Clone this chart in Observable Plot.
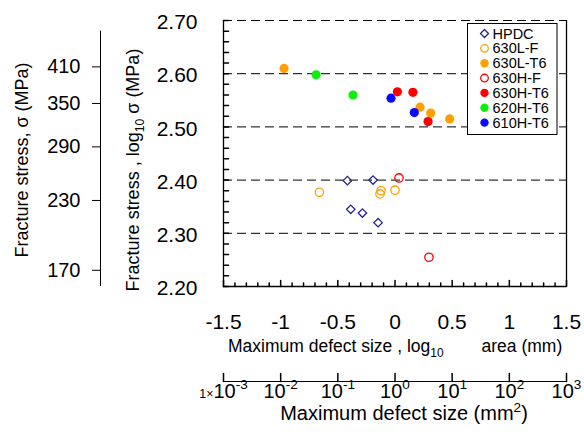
<!DOCTYPE html>
<html><head><meta charset="utf-8">
<script src="https://cdn.jsdelivr.net/npm/d3@7"></script>
<script src="https://cdn.jsdelivr.net/npm/@observablehq/plot@0.6"></script>
<style>body{margin:0;background:#fff} svg text{white-space:pre}</style>
</head><body><div id="chart"></div>
<script>
// ---- data (x: log10 sqrt(area) [mm], y: log10 fracture stress [MPa]) ----
const hpdcX = [-0.416, -0.192, -0.387, -0.285, -0.148];
const hpdcY = [2.399, 2.400, 2.345, 2.338, 2.320];
const l630FX = [-0.661, -0.122, -0.131, 0.000];
const l630FY = [2.377, 2.380, 2.374, 2.381];
const l630T6X = [-0.970, 0.219, 0.312, 0.478];
const l630T6Y = [2.610, 2.537, 2.526, 2.515];
const h630FX = [0.035, 0.297];
const h630FY = [2.404, 2.255];
const h630T6X = [0.021, 0.157, 0.289];
const h630T6Y = [2.566, 2.565, 2.510];
const h620T6X = [-0.690, -0.367];
const h620T6Y = [2.598, 2.560];
const h610T6X = [-0.035, 0.169];
const h610T6Y = [2.554, 2.527];
const seriesNames = ["HPDC", "630L-F", "630L-T6", "630H-F", "630H-T6", "620H-T6", "610H-T6"];
const xTicks = [-1.5, -1, -0.5, 0, 0.5, 1, 1.5];
const yTicks = [2.2, 2.3, 2.4, 2.5, 2.6, 2.7];
const stressTicks = [170, 230, 290, 350, 410];
const areaExponents = [-3, -2, -1, 0, 1, 2, 3];

// ---- styles ----
const FONT = "'Liberation Sans', Arial, sans-serif";
const ORANGE = "#FF9F00", RED = "#FF0000", GREEN = "#10EE10", BLUE = "#0A0AFF", NAVY = "#22229A";
const seriesStyle = [
  {symbol: "diamond2", r: 3.8, fill: "none", stroke: NAVY, strokeWidth: 1.3},
  {symbol: "circle", r: 4.2, fill: "none", stroke: ORANGE, strokeWidth: 1.3},
  {symbol: "circle", r: 4.6, fill: ORANGE, stroke: "none"},
  {symbol: "circle", r: 4.2, fill: "none", stroke: RED, strokeWidth: 1.3},
  {symbol: "circle", r: 4.6, fill: RED, stroke: "none"},
  {symbol: "circle", r: 4.6, fill: GREEN, stroke: "none"},
  {symbol: "circle", r: 4.6, fill: BLUE, stroke: "none"}
];
const seriesXY = [[hpdcX, hpdcY], [l630FX, l630FY], [l630T6X, l630T6Y], [h630FX, h630FY],
                  [h630T6X, h630T6Y], [h620T6X, h620T6Y], [h610T6X, h610T6Y]];
const drawOrder = [0, 1, 3, 2, 4, 5, 6];

const tickShape = {draw(ctx, l) { ctx.moveTo(0, 0); ctx.lineTo(0, -l); }};
const yMinor = d3.range(0, 26).map(i => +(2.2 + i * 0.02).toFixed(2));
const xMinor = d3.range(0, 31).map(i => +(-1.5 + i * 0.1).toFixed(1)).filter(v => !xTicks.includes(v));

const plot = Plot.plot({
  width: 584, height: 435,
  marginTop: 20, marginBottom: 149, marginLeft: 223, marginRight: 18,
  x: {domain: [-1.5, 1.5]},
  y: {domain: [2.2, 2.7]},
  style: {fontFamily: FONT, fontSize: "21px", background: "white", color: "black"},
  marks: [
    Plot.ruleY(yTicks.filter(v => v > 2.2), {stroke: "black", strokeDasharray: "9,5", strokeWidth: 1}),
    Plot.ruleX([-1.5, 1.5], {stroke: "black", strokeWidth: 1.3}),
    Plot.ruleY([2.2], {stroke: "black", strokeWidth: 1.3}),
    Plot.vector(yMinor, {y: d => d, frameAnchor: "left", length: 5, rotate: 90, anchor: "start", shape: tickShape, stroke: "black"}),
    Plot.vector(xMinor, {x: d => d, frameAnchor: "bottom", length: 3.5, rotate: 0, anchor: "start", shape: tickShape, stroke: "black"}),
    Plot.vector(xTicks, {x: d => d, frameAnchor: "bottom", length: 6, rotate: 0, anchor: "start", shape: tickShape, stroke: "black"}),
    Plot.axisY(yTicks, {anchor: "left", tickSize: 0, tickPadding: 26, dy: 2, tickFormat: d3.format(".2f"), label: null}),
    Plot.axisX(xTicks, {anchor: "bottom", tickSize: 0, tickPadding: 28, tickFormat: d => String(d), label: null}),
    // secondary stress axis (MPa), same log scale
    Plot.ruleX([-1.5], {y1: 2.68, y2: 2.2, dx: -123, stroke: "black"}),
    Plot.axisY(stressTicks.map(Math.log10), {anchor: "left", dx: -123, tickSize: 8, tickPadding: 12, fontSize: 20, tickFormat: v => String(Math.round(10 ** v)), label: null}),
    // secondary area axis (mm^2)
    Plot.ruleY([2.2], {dy: 95, stroke: "black"}),
    Plot.vector(areaExponents, {x: e => e / 2, frameAnchor: "bottom", dy: 95, length: 8, rotate: 0, anchor: "start", shape: tickShape, stroke: "black"}),
    Plot.text(areaExponents, {x: e => e / 2, frameAnchor: "bottom", dy: 111, fontSize: 20, text: e => (e === -3 ? "1×" : "") + "10^" + e}),
    ...drawOrder.map(i => Plot.dot(d3.zip(seriesXY[i][0], seriesXY[i][1]), {x: d => d[0], y: d => d[1], ...seriesStyle[i]}))
  ]
});
document.getElementById("chart").append(plot);
const svg = d3.select(plot);

function rich(textSel, parts, F) {
  let shift = 0;
  for (const [t, kind, dx] of parts) {
    const ts = textSel.append("tspan").text(t);
    let target = 0, size = F;
    if (kind === "sub") { target = 0.28 * F; size = 0.68 * F; }
    else if (kind === "sup") { target = -0.42 * F; size = 0.68 * F; }
    else if (kind === "small") { size = 0.62 * F; }
    ts.attr("font-size", size);
    if (target !== shift) { ts.attr("dy", target - shift); shift = target; }
    if (dx) ts.attr("dx", dx);
  }
}

// superscript log labels
svg.selectAll("text").each(function() {
  const m = this.textContent.match(/^(1×)?10\^(-?\d)$/);
  if (!m) return;
  const t = d3.select(this).text("");
  const parts = [];
  if (m[1]) parts.push(["1×", "small"]);
  parts.push(["10", "n"], [m[2], "sup"]);
  rich(t, parts, 20);
});

// titles
const T = svg.append("g").attr("font-family", FONT).attr("fill", "black");
const t1 = T.append("text").attr("transform", "translate(22,160) rotate(-90)").attr("text-anchor", "middle").attr("dy", "0.35em").attr("font-size", 18);
rich(t1, [["Fracture stress, σ (MPa)", "n"]], 18);
const t2 = T.append("text").attr("transform", "translate(133,170) rotate(-90)").attr("text-anchor", "middle").attr("dy", "0.35em").attr("font-size", 18);
rich(t2, [["Fracture stress , log", "n"], ["10", "sub"], [" σ (MPa)", "n"]], 18);
const t3 = T.append("text").attr("x", 228).attr("y", 352).attr("text-anchor", "start").attr("font-size", 17.5);
rich(t3, [["Maximum defect size , log", "n"], ["10", "sub"], ["area (mm)", "n", 38]], 17.5);
const t4 = T.append("text").attr("x", 404).attr("y", 420).attr("text-anchor", "middle").attr("font-size", 20);
rich(t4, [["Maximum defect size (mm", "n"], ["2", "sup"], [")", "n"]], 20);

// legend
const lg = svg.append("g").attr("font-family", FONT).attr("text-anchor", "start");
lg.append("rect").attr("x", 467.5).attr("y", 23.5).attr("width", 89.5).attr("height", 111)
  .attr("fill", "white").attr("stroke", "black").attr("stroke-width", 1);
const symMap = {circle: d3.symbolCircle, diamond2: d3.symbolDiamond2};
seriesNames.forEach((name, i) => {
  const cy = 33.5 + i * 14.85;
  const st = seriesStyle[i];
  const r = st.symbol === "circle" ? (st.fill === "none" ? 3.8 : 4.2) : 3.6;
  lg.append("path").attr("transform", `translate(484.5,${cy})`)
    .attr("d", d3.symbol(symMap[st.symbol], Math.PI * r * r)())
    .attr("fill", st.fill).attr("stroke", st.stroke).attr("stroke-width", st.strokeWidth || 0);
  lg.append("text").attr("x", 492.5).attr("y", cy).attr("dy", "0.35em").attr("text-anchor", "start").attr("font-size", 14.5).text(name);
});
</script>
</body></html>
